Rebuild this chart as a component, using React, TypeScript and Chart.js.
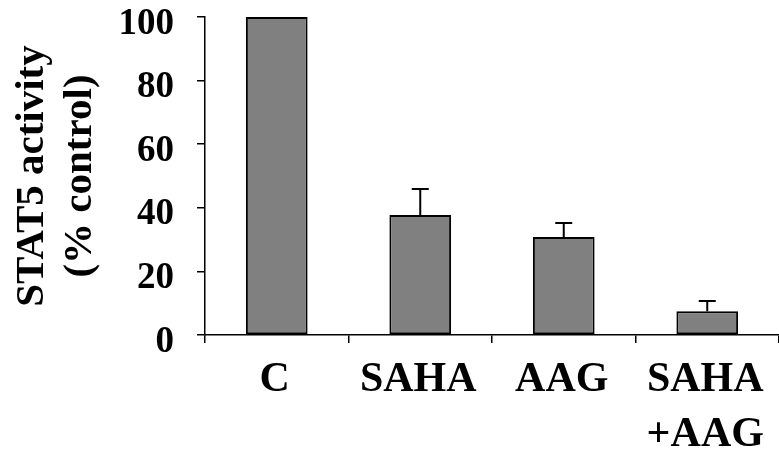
import React, { useEffect, useRef } from "react";
import { Chart, registerables } from "chart.js";

Chart.register(...registerables);

const categories: (string | string[])[] = ["C", "SAHA", "AAG", ["SAHA", "+AAG"]];
const values: number[] = [100, 37.7, 30.8, 7.5];
const errorsUp: number[] = [0, 8.2, 4.4, 3.2];
const yTicks: number[] = [0, 20, 40, 60, 80, 100];
const yTitle: string[] = ["STAT5 activity", "(% control)"];

const FONT = "'Liberation Serif', 'Times New Roman', serif";

const errorBarPlugin = {
  id: "errorBars",
  afterDatasetsDraw(chart: any) {
    const ctx = chart.ctx;
    const meta = chart.getDatasetMeta(0);
    const yScale = chart.scales.y;
    ctx.save();
    ctx.strokeStyle = "#000";
    ctx.lineWidth = 2;
    meta.data.forEach((bar: any, i: number) => {
      const e = errorsUp[i];
      if (!e) return;
      const x = bar.x;
      const yb = yScale.getPixelForValue(values[i]);
      const yt = yScale.getPixelForValue(values[i] + e);
      ctx.beginPath();
      ctx.moveTo(x, yb);
      ctx.lineTo(x, yt);
      ctx.moveTo(x - 8.5, yt);
      ctx.lineTo(x + 8.5, yt);
      ctx.stroke();
    });
    ctx.restore();
  },
};

export default function App() {
  const ref = useRef<HTMLCanvasElement | null>(null);
  useEffect(() => {
    if (!ref.current) return;
    const chart = new Chart(ref.current, {
      type: "bar",
      data: {
        labels: categories,
        datasets: [
          {
            data: values,
            backgroundColor: "#808080",
            borderColor: "#000",
            borderWidth: 2,
            borderSkipped: false,
            categoryPercentage: 1,
            barPercentage: 0.43,
          },
        ],
      },
      options: {
        responsive: false,
        animation: false,
        layout: { padding: { top: 17, left: 0, right: 0, bottom: 0 } },
        plugins: {
          legend: { display: false },
          tooltip: { enabled: false },
          title: { display: false },
        },
        scales: {
          x: {
            offset: true,
            border: { display: true, color: "#000", width: 1.5 },
            grid: {
              display: true,
              offset: true,
              drawOnChartArea: false,
              drawTicks: true,
              tickLength: 8,
              color: "#000",
              lineWidth: 1.5,
            },
            ticks: {
              color: "#000",
              padding: 10,
              maxRotation: 0,
              minRotation: 0,
              autoSkip: false,
              labelOffset: -2,
              font: { family: FONT, size: 42, weight: "bold", lineHeight: 1.31 },
            },
            afterFit(scale: any) {
              scale.height = 452 - 335;
              scale.paddingLeft = 0;
              scale.paddingRight = 0;
            },
          },
          y: {
            min: 0,
            max: 100,
            afterBuildTicks(scale: any) {
              scale.ticks = yTicks.map((v) => ({ value: v }));
            },
            border: { display: true, color: "#000", width: 1.5 },
            grid: {
              display: true,
              drawOnChartArea: false,
              drawTicks: true,
              tickLength: 8,
              color: "#000",
              lineWidth: 1.5,
            },
            ticks: {
              color: "#000",
              padding: 23,
              labelOffset: 7,
              font: { family: FONT, size: 37, weight: "bold" },
            },
            title: {
              display: true,
              text: yTitle,
              color: "#000",
              padding: { top: 8, bottom: 0 },
              font: { family: FONT, size: 41, weight: "bold", lineHeight: 1.17 },
            },
            afterFit(scale: any) {
              scale.width = 205;
              scale.paddingTop = 0;
              scale.paddingBottom = 0;
            },
          },
        },
      },
      plugins: [errorBarPlugin],
    });
    return () => chart.destroy();
  }, []);
  return (
    <div style={{ position: "absolute", left: 0, top: 0, width: 779, height: 452, background: "#fff" }}>
      <canvas ref={ref} width={779} height={452} style={{ display: "block" }} />
    </div>
  );
}
